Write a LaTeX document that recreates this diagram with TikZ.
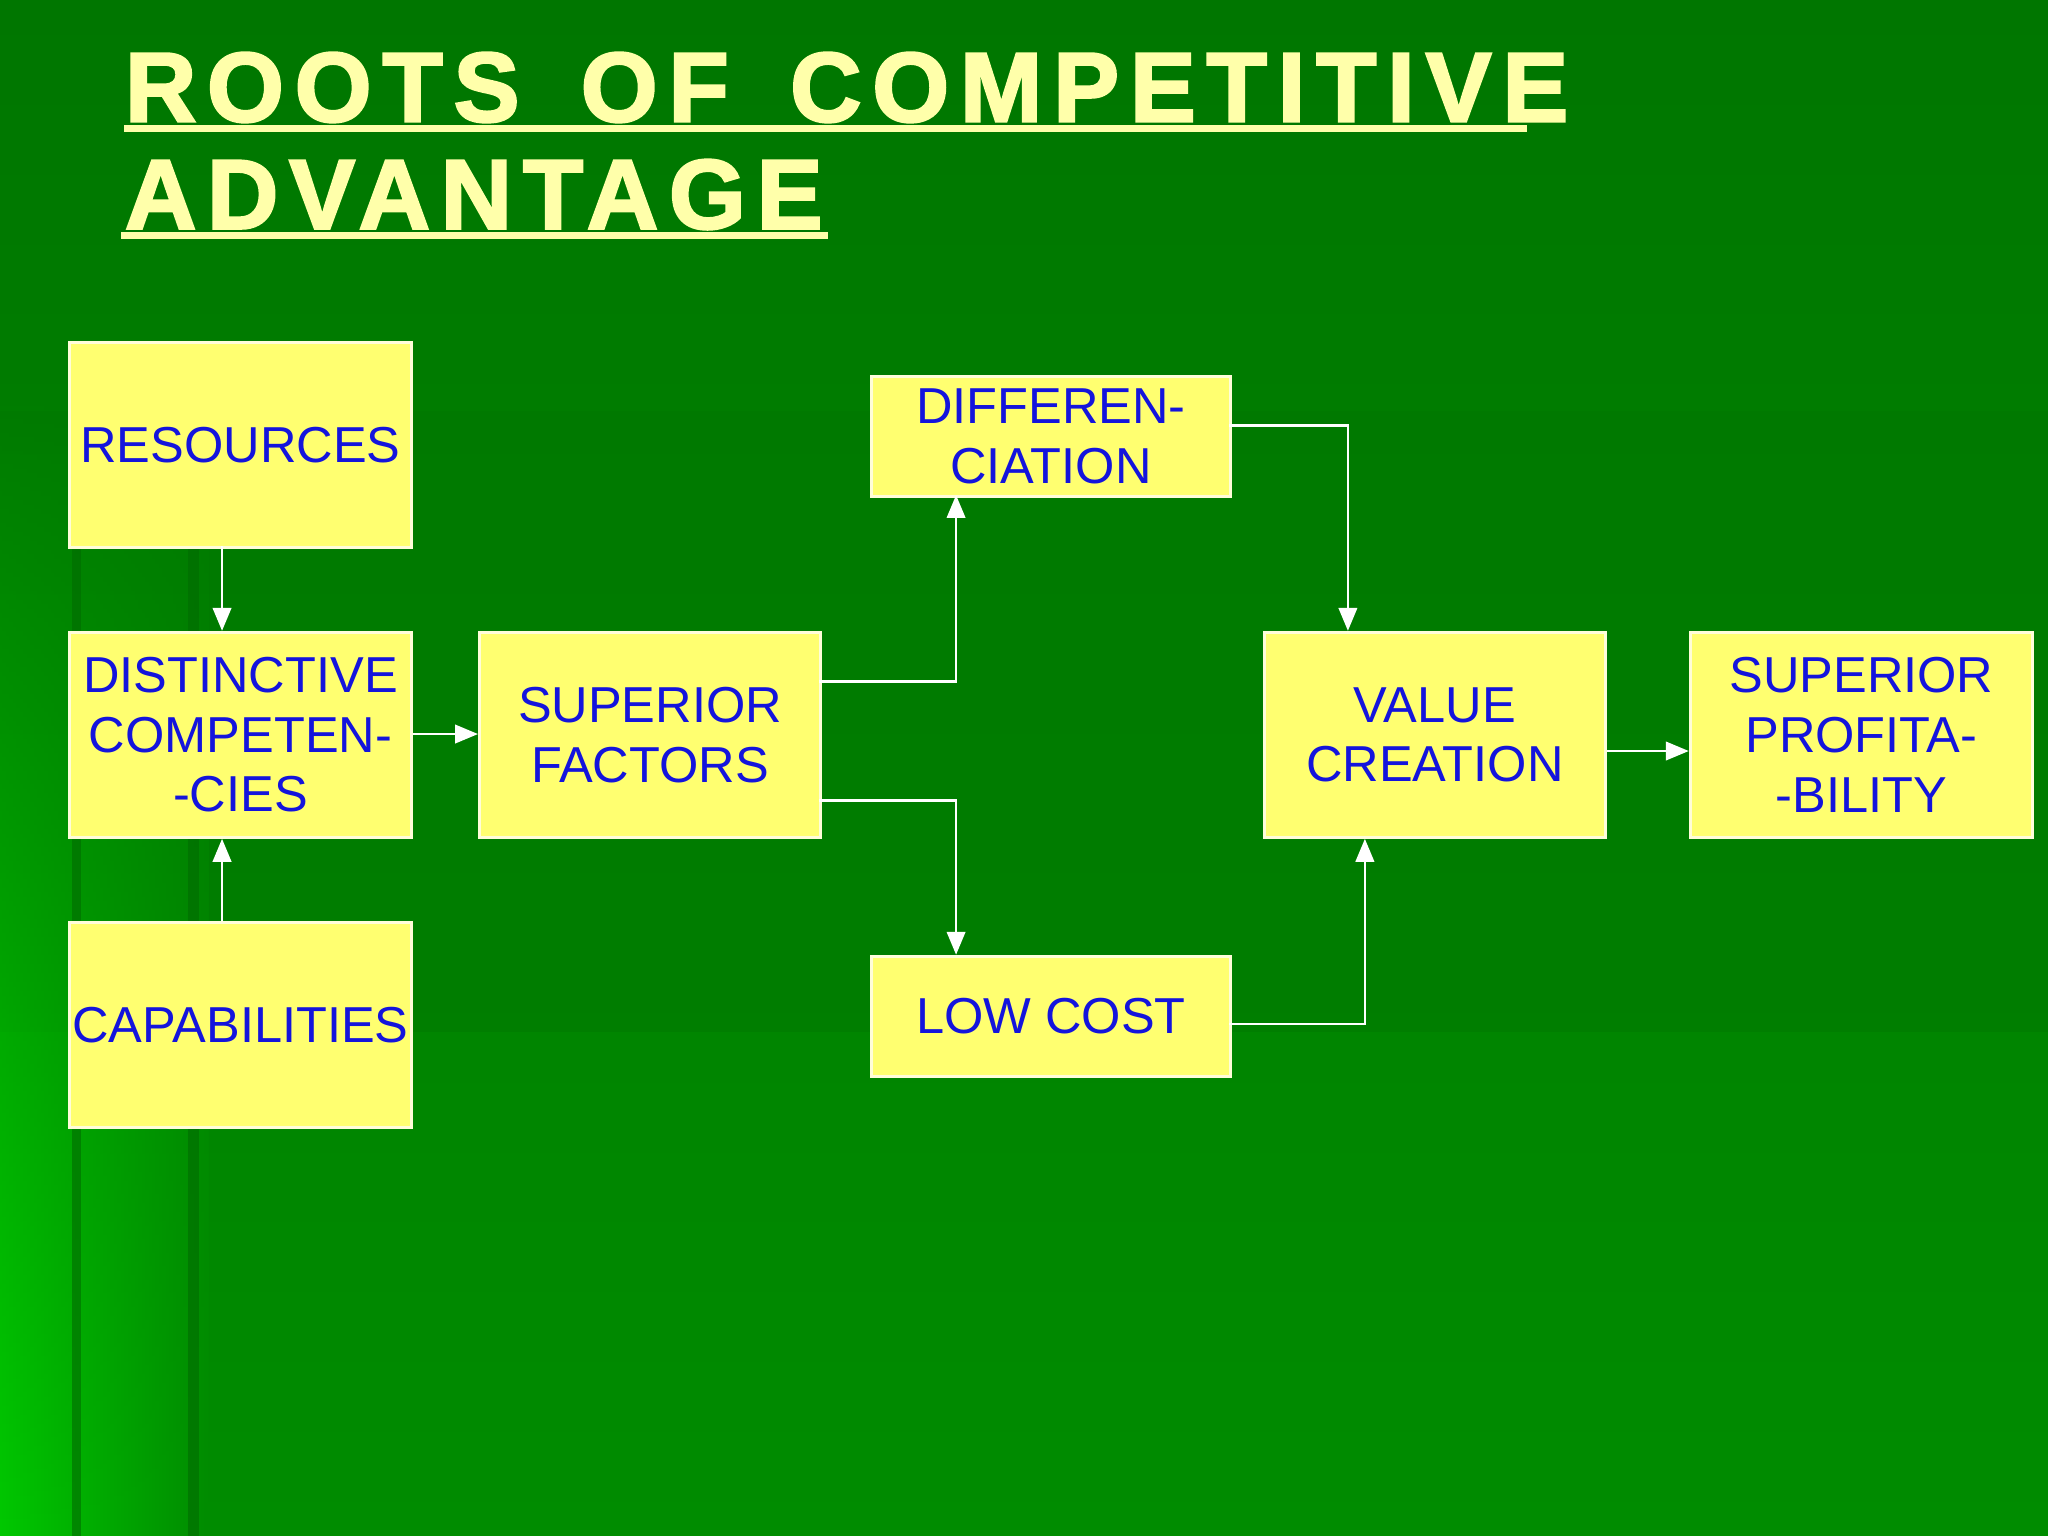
\documentclass[tikz,border=0pt]{standalone}
\usepackage{fontspec}
\setmainfont{Liberation Sans}
\newfontfamily\titlefont[LetterSpace=11,FakeBold=2.5,WordSpace=1.6]{Liberation Sans}
\usetikzlibrary{arrows.meta,fadings}
\definecolor{bgtop}{RGB}{0,118,0}
\definecolor{bgbot}{RGB}{0,140,0}
\definecolor{bright}{RGB}{0,200,0}
\definecolor{boxy}{RGB}{255,255,112}
\definecolor{txtb}{RGB}{20,20,220}
\definecolor{ttl}{RGB}{255,255,170}
\tikzset{
  box/.style={draw=white!85!yellow,line width=0.6pt,fill=boxy,text=txtb,align=center,font=\fontsize{11}{13}\selectfont,inner sep=0pt},
  con/.style={draw=white,line width=0.6pt,-{Triangle[width=4pt,length=5pt]}}
}
\begin{document}
\begin{tikzpicture}[x=0.01cm,y=-0.01cm]
\useasboundingbox (0,0) rectangle (1568,1176);
\shade[top color=bgtop,bottom color=bgbot] (0,0) rectangle (1568,1176);
\fill[bgtop!90!bgbot,opacity=0.5] (0,315) rectangle (1568,790);
\shade[left color=bright,right color=bgbot,path fading=north] (0,300) rectangle (160,1176);
\fill[black!30!green!60!black,opacity=0.6] (55,420) rectangle (62,1176);
\fill[black!30!green!60!black,opacity=0.6] (144,420) rectangle (152,1176);
% title
\node[anchor=base west,text=ttl,inner sep=0pt,font=\titlefont\fontsize{21.5}{26}\bfseries] (t1) at (95,93) {ROOTS OF COMPETITIVE};
\node[anchor=base west,text=ttl,inner sep=0pt,font=\titlefont\fontsize{21.5}{26}\bfseries] (t2) at (95,175) {ADVANTAGE};
\fill[ttl] (95,96) rectangle (1169,101);
\fill[ttl] (93,178) rectangle (634,183);
% boxes
\node[box,anchor=north west,minimum width=2.62cm,minimum height=1.57cm] (res) at (52,261) {RESOURCES};
\node[box,anchor=north west,minimum width=2.62cm,minimum height=1.57cm] (dc) at (52,483) {DISTINCTIVE\\COMPETEN-\\-CIES};
\node[box,anchor=north west,minimum width=2.62cm,minimum height=1.57cm] (cap) at (52,705) {CAPABILITIES};
\node[box,anchor=north west,minimum width=2.61cm,minimum height=1.57cm] (sf) at (366,483) {SUPERIOR\\FACTORS};
\node[box,anchor=north west,minimum width=2.75cm,minimum height=0.92cm] (dif) at (666,287) {DIFFEREN-\\CIATION};
\node[box,anchor=north west,minimum width=2.75cm,minimum height=0.92cm] (lc) at (666,731) {LOW COST};
\node[box,anchor=north west,minimum width=2.61cm,minimum height=1.57cm] (vc) at (967,483) {VALUE\\CREATION};
\node[box,anchor=north west,minimum width=2.62cm,minimum height=1.57cm] (sp) at (1293,483) {SUPERIOR\\PROFITA-\\-BILITY};
% connectors
\coordinate (a1) at (170,418);
\coordinate (a2) at (170,705);
\draw[con] (a1) -- (a1 |- dc.north);
\draw[con] (a2) -- (a2 |- dc.south);
\draw[con] (dc.east |- 0,562) -- (sf.west |- 0,562);
\coordinate (s1) at (627,522);
\coordinate (s2) at (627,613);
\draw[con] (s1) -| (732,379);
\draw[con] (s2) -| (732,731);
\coordinate (d1) at (941,326);
\coordinate (l1) at (941,784);
\draw[con] (d1) -| (vc.north -| 1032,0);
\draw[con] (l1) -| (vc.south -| 1045,0);
\draw[con] (vc.east |- 0,575) -- (sp.west |- 0,575);
\end{tikzpicture}
\end{document}
